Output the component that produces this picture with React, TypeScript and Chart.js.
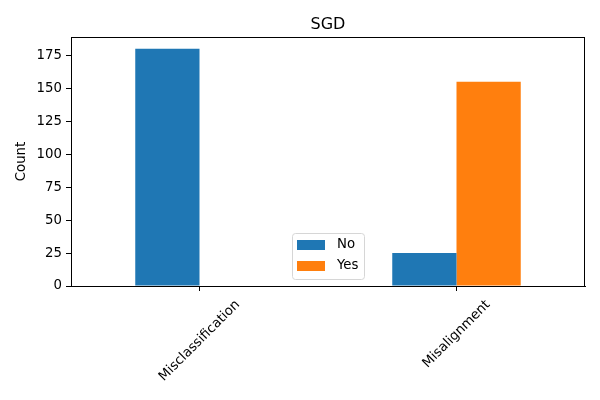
import React, { useEffect, useRef } from 'react';
import { Chart, registerables } from 'chart.js';

Chart.register(...registerables);

const categories = ['Misclassification', 'Misalignment'];
const noValues = [180, 25];
const yesValues = [0, 155];
const yTicks = [0, 25, 50, 75, 100, 125, 150, 175];
const yMax = 189;

const FONT = '"DejaVu Sans", sans-serif';

// рамка осей, подписи по оси X, заголовок, подпись оси Y и легенда в стиле matplotlib
const mplPlugin = {
  id: 'mplDecor',
  afterDraw(chart: any) {
    const { ctx, chartArea } = chart;
    const { left, right, top, bottom } = chartArea;
    ctx.save();

    ctx.strokeStyle = '#000';
    ctx.lineWidth = 1;
    ctx.strokeRect(left + 0.5, top + 0.5, right - left - 1, bottom - top);

    // заголовок
    ctx.fillStyle = '#000';
    ctx.font = `16px ${FONT}`;
    ctx.textAlign = 'center';
    ctx.textBaseline = 'alphabetic';
    ctx.fillText('SGD', (left + right) / 2, top - 8);

    // подпись оси Y
    ctx.font = `13.3px ${FONT}`;
    ctx.save();
    ctx.translate(22, (top + bottom) / 2);
    ctx.rotate(-Math.PI / 2);
    ctx.textAlign = 'center';
    ctx.textBaseline = 'middle';
    ctx.fillText('Count', 0, 0);
    ctx.restore();

    // подписи категорий под углом 45°
    const xScale = chart.scales.x;
    categories.forEach((label, i) => {
      const x = xScale.getPixelForTick(i);
      const w = ctx.measureText(label).width;
      const h = 13;
      const side = (w + h) * Math.SQRT1_2;
      ctx.save();
      ctx.translate(x, bottom + 12 + side / 2);
      ctx.rotate(-Math.PI / 4);
      ctx.textAlign = 'center';
      ctx.textBaseline = 'middle';
      ctx.fillText(label, 0, 0);
      ctx.restore();
    });

    // легенда
    const datasets = chart.data.datasets;
    const boxW = 72;
    const boxH = 46;
    const bx = (left + right) / 2 - boxW / 2;
    const by = bottom - 7 - boxH;
    ctx.beginPath();
    ctx.roundRect(bx + 0.5, by + 0.5, boxW, boxH, 3);
    ctx.fillStyle = 'rgba(255,255,255,0.8)';
    ctx.fill();
    ctx.strokeStyle = '#d6d6d6';
    ctx.stroke();
    datasets.forEach((ds: any, i: number) => {
      const py = by + 7 + i * 21;
      ctx.fillStyle = ds.backgroundColor;
      ctx.fillRect(bx + 5, py, 28, 10);
      ctx.fillStyle = '#000';
      ctx.textAlign = 'left';
      ctx.textBaseline = 'middle';
      ctx.fillText(ds.label, bx + 45, py + 5);
    });

    ctx.restore();
  },
};

const App: React.FC = () => {
  const chartRef = useRef<HTMLCanvasElement>(null);
  const chartInstance = useRef<Chart | null>(null);

  useEffect(() => {
    if (!chartRef.current) return;
    if (chartInstance.current) chartInstance.current.destroy();

    chartInstance.current = new Chart(chartRef.current, {
      type: 'bar',
      data: {
        labels: categories,
        datasets: [
          { label: 'No', data: noValues, backgroundColor: '#1f77b4', borderWidth: 0, inflateAmount: 0 },
          { label: 'Yes', data: yesValues, backgroundColor: '#ff7f0e', borderWidth: 0, inflateAmount: 0 },
        ],
      },
      options: {
        animation: false,
        responsive: true,
        maintainAspectRatio: false,
        layout: { padding: { top: 37, right: 15, left: 0, bottom: 0 } },
        datasets: { bar: { barPercentage: 1, categoryPercentage: 0.5 } },
        plugins: {
          legend: { display: false },
          title: { display: false },
          tooltip: { enabled: false },
        },
        scales: {
          x: {
            offset: true,
            grid: {
              offset: false,
              drawOnChartArea: false,
              drawTicks: true,
              tickLength: 5,
              color: '#000',
            },
            border: { display: true, color: '#000' },
            ticks: { display: false },
            afterFit: (scale: any) => {
              scale.height = 114;
            },
          },
          y: {
            min: 0,
            max: yMax,
            grid: {
              drawOnChartArea: false,
              drawTicks: true,
              tickLength: 5,
              color: '#000',
            },
            border: { display: true, color: '#000' },
            ticks: {
              color: '#000',
              padding: 4,
              font: { family: FONT, size: 13.3 },
            },
            afterBuildTicks: (scale: any) => {
              scale.ticks = yTicks.map((v) => ({ value: v }));
            },
            afterFit: (scale: any) => {
              scale.width = 71;
            },
          },
        },
      },
      plugins: [mplPlugin],
    });

    return () => {
      if (chartInstance.current) {
        chartInstance.current.destroy();
        chartInstance.current = null;
      }
    };
  }, []);

  return (
    <div style={{ position: 'absolute', left: 0, top: 0, width: 600, height: 400, background: '#fff' }}>
      <canvas ref={chartRef} />
    </div>
  );
};

export default App;
